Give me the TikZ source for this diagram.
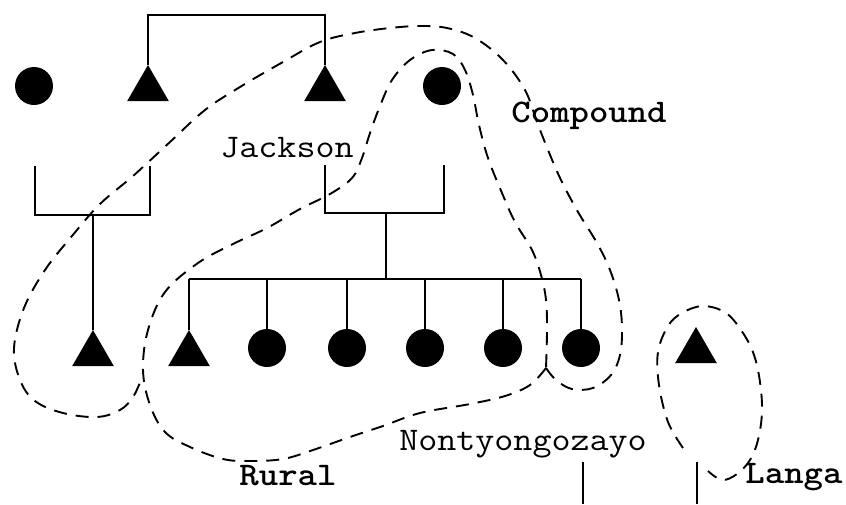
\documentclass[tikz,border=0pt]{standalone}
\usepackage{fontspec}
\usetikzlibrary{shapes.geometric}
\begin{document}
\begin{tikzpicture}[x=1pt,y=-1pt,
  kin/.style={line width=2.2pt},
  grp/.style={line width=1.9pt, dash pattern=on 13pt off 9pt},
  tri/.style={regular polygon, regular polygon sides=3, minimum size=48pt, inner sep=0pt, fill=black},
  dot/.style={circle, minimum size=38pt, inner sep=0pt, fill=black},
  lbl/.style={font=\fontsize{33}{36}\selectfont\ttfamily, anchor=base, inner sep=0pt},
  blbl/.style={font=\fontsize{33}{36}\selectfont\ttfamily\bfseries, anchor=base, inner sep=0pt}]
\useasboundingbox (0,0) rectangle (846,504);
% symbols
\node[dot] (g1) at (34,86) {};
\node[tri] (g2) at (148,89) {};
\node[tri] (g3) at (325,89) {};
\node[dot] (g4) at (442,86) {};
\node[tri] (lc) at (93,354) {};
\node[tri] (c1) at (189,354) {};
\node[dot] (c2) at (267,348) {};
\node[dot] (c3) at (347,348) {};
\node[dot] (c4) at (425,348) {};
\node[dot] (c5) at (503,348) {};
\node[dot] (c6) at (581,348) {};
\node[tri] (lg) at (696,351) {};
% kinship lines
\coordinate (topbar) at (0,15);
\draw[kin] (g2.north) -- (g2.north |- topbar) -| (g3.north);
\coordinate (la) at (35,166);
\coordinate (lb) at (150,166);
\coordinate (lbar) at (0,215);
\draw[kin] (la) -- (la |- lbar) -- (lb |- lbar) -- (lb);
\draw[kin] (lc.north |- lbar) -- (lc.north);
\coordinate (ra) at (325,165);
\coordinate (rb) at (444,165);
\coordinate (rbar) at (0,213);
\coordinate (sdrop) at (386,0);
\coordinate (sbar) at (0,279);
\draw[kin] (ra) -- (ra |- rbar) -- (rb |- rbar) -- (rb);
\draw[kin] (sdrop |- rbar) -- (sdrop |- sbar);
\draw[kin] (c1.north |- sbar) -- (c6.north |- sbar);
\foreach \c in {c1,c2,c3,c4,c5,c6}{\draw[kin] (\c.north |- sbar) -- (\c.north);}
\coordinate (b1) at (583,462);
\coordinate (b1e) at (583,504);
\coordinate (b2) at (697,462);
\coordinate (b2e) at (697,504);
\draw[kin] (b1) -- (b1e);
\draw[kin] (b2) -- (b2e);
% group outlines
\draw[grp] plot[smooth, tension=0.6] coordinates {(546,368) (530,385) (505,396) (470,404) (420,413) (383,426) (350,437) (313,450) (283,459) (250,461) (223,459) (190,447) (165,432) (150,405) (143,370) (148,330) (165,292) (198,263) (233,244) (267,228) (300,209) (330,194) (352,178) (362,158) (370,133) (380,106) (392,80) (410,60) (432,50) (453,54) (465,70) (473,95) (479,125) (488,158) (502,193) (515,222) (532,250) (541,275) (546,300) (547,330) (546,368)};
\draw[grp] plot[smooth, tension=0.6] coordinates {(546,368) (556,380) (572,389) (593,388) (611,375) (620,355) (622,328) (619,300) (610,270) (597,243) (578,212) (561,180) (548,150) (537,122) (525,90) (503,60) (475,38) (447,28) (420,26) (390,28) (355,33) (320,42) (283,62) (240,87) (205,110) (170,142) (133,176) (100,204) (72,236) (45,270) (24,308) (14,348) (20,380) (35,401) (63,413) (97,417) (120,410) (133,397) (141,380)};
\draw[grp] plot[smooth, tension=0.6] coordinates {(683,448) (668,422) (659,385) (658,352) (668,326) (682,313) (703,306) (726,313) (743,333) (754,355) (760,382) (762,412) (758,440) (750,460) (737,474) (722,480) (708,471)};
% labels
\node[lbl] (jackson) at (287,157) {\scalebox{1.12}[1]{Jackson}};
\node[blbl] (compound) at (589,122) {\scalebox{1.12}[1]{Compound}};
\node[lbl] (nonty) at (523,450) {\scalebox{1.12}[1]{Nontyongozayo}};
\node[blbl] (rural) at (288,485) {\scalebox{1.12}[1]{Rural}};
\node[blbl] (langa) at (794,483) {\scalebox{1.12}[1]{Langa}};
\end{tikzpicture}
\end{document}
